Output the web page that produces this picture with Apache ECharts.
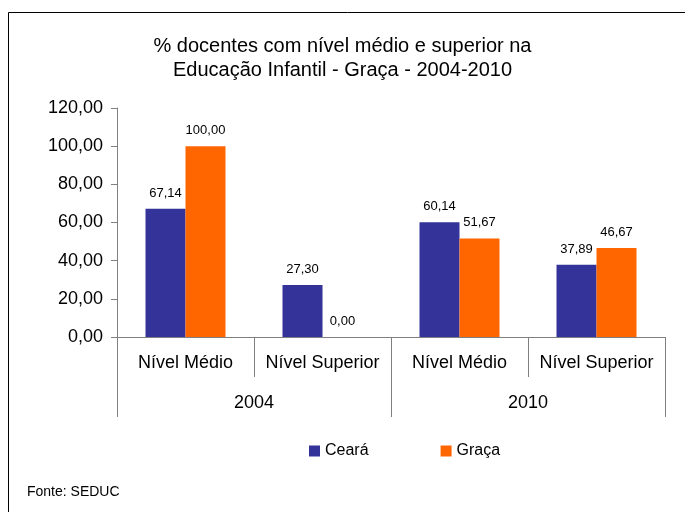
<!DOCTYPE html>
<html>
<head>
<meta charset="utf-8">
<script src="https://cdn.jsdelivr.net/npm/echarts@6/dist/echarts.min.js"></script>
<style>
html,body{margin:0;padding:0;background:#fff;}
#c{width:685px;height:512px;}
</style>
</head>
<body>
<div id="c"></div>
<script>
var categories = ['Nível Médio', 'Nível Superior', 'Nível Médio', 'Nível Superior'];
var years = ['2004', '2010'];
var seriesNames = ['Ceará', 'Graça'];
var cearaValues = [67.14, 27.30, 60.14, 37.89];
var gracaValues = [100.00, 0.00, 51.67, 46.67];
var yTicks = [0, 20, 40, 60, 80, 100, 120];

function fmt(v) { return Number(v).toFixed(2).replace('.', ','); }

var FONT = 'Liberation Sans, Arial, sans-serif';
var chart = echarts.init(document.getElementById('c'));
chart.setOption({
  animation: false,
  textStyle: { fontFamily: FONT, color: '#000' },
  title: {
    text: '% docentes com nível médio e superior na\nEducação Infantil - Graça - 2004-2010',
    left: 'center',
    top: 29,
    textStyle: { fontFamily: FONT, fontSize: 20, fontWeight: 'normal', color: '#000', lineHeight: 24 }
  },
  legend: {
    data: seriesNames,
    left: 309,
    top: 443,
    padding: 0,
    icon: 'rect',
    itemWidth: 11,
    itemHeight: 11,
    itemGap: 72,
    textStyle: { fontFamily: FONT, fontSize: 16, color: '#000' }
  },
  graphic: [
    { type: 'rect', shape: { x: 8.5, y: 12.5, width: 720, height: 540 }, style: { fill: 'none', stroke: '#000', lineWidth: 1 }, silent: true },
    { type: 'text', left: 27, top: 485, style: { text: 'Fonte: SEDUC', font: '14px ' + FONT, fill: '#000' } }
  ],
  grid: { left: 117, right: 20, top: 108, bottom: 175, containLabel: false },
  xAxis: [
    {
      type: 'category',
      data: categories,
      axisLine: { lineStyle: { color: '#808080', width: 1 } },
      axisTick: { show: true, length: 40, interval: 0, lineStyle: { color: '#808080' } },
      axisLabel: { interval: 0, margin: 17, fontSize: 18, color: '#000', fontFamily: FONT }
    },
    {
      type: 'category',
      data: years,
      position: 'bottom',
      axisLine: { show: false },
      axisTick: { show: true, length: 80, interval: 0, lineStyle: { color: '#808080' } },
      axisLabel: { interval: 0, margin: 57, fontSize: 18, color: '#000', fontFamily: FONT }
    }
  ],
  yAxis: {
    type: 'value',
    min: yTicks[0],
    max: yTicks[yTicks.length - 1],
    interval: 20,
    axisLine: { show: true, lineStyle: { color: '#808080', width: 1 } },
    axisTick: { show: true, length: 6, lineStyle: { color: '#808080' } },
    splitLine: { show: false },
    axisLabel: { margin: 14, fontSize: 18, color: '#000', fontFamily: FONT, formatter: fmt }
  },
  series: [
    {
      name: seriesNames[0], type: 'bar', data: cearaValues, barWidth: 40, barGap: '0%',
      itemStyle: { color: '#333399' },
      label: { show: true, position: 'top', distance: 9, fontSize: 13, color: '#000', fontFamily: FONT, formatter: function (p) { return fmt(p.value); } }
    },
    {
      name: seriesNames[1], type: 'bar', data: gracaValues, barWidth: 40, barGap: '0%',
      itemStyle: { color: '#FF6600' },
      label: { show: true, position: 'top', distance: 9, fontSize: 13, color: '#000', fontFamily: FONT, formatter: function (p) { return fmt(p.value); } }
    }
  ]
});
</script>
</body>
</html>
